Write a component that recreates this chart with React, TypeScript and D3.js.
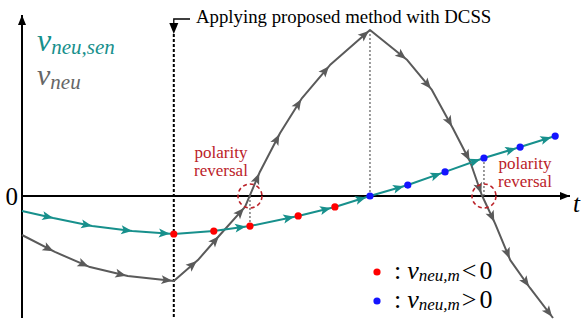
import * as d3 from "d3"

// time axis runs 0..100 (arbitrary units), signal normalised so the peak is 1
const SENSED_T = [0, 5.7, 12.8, 20.1, 27.7, 35.0, 41.6, 50.4, 57.1, 63.5, 70.4, 77.2, 84.3, 90.9, 97.3]
const SENSED_V = [-0.09, -0.133, -0.181, -0.211, -0.229, -0.211, -0.181, -0.12, -0.066, 0, 0.066, 0.145, 0.229, 0.295, 0.361]
// which points are sampled (dots) and which segments end in an arrow
const SENSED_SAMPLED = [false, false, false, false, true, true, true, true, true, true, true, true, true, true, true]
const SENSED_ARROW = [false, true, true, true, true, false, true, true, true, true, true, true, true, true, true]

const NEU_T = [0, 6.0, 12.4, 19.3, 27.7, 32.1, 36.1, 40.7, 43.4, 47.1, 51.1, 56.2, 63.5, 70.3, 74.8, 78.6, 81.8, 83.9, 86.3, 89.1, 92.7, 96.9]
const NEU_V = [-0.235, -0.337, -0.428, -0.482, -0.512, -0.386, -0.235, -0.066, 0.145, 0.38, 0.59, 0.789, 1.0, 0.819, 0.639, 0.41, 0.205, 0.006, -0.163, -0.386, -0.554, -0.735]

const APPLY_T = 27.7
const PEAK_T = 63.5
const REVERSAL_T = [41.6, 84.3]

const W = 581
const H = 324
const TEAL = "#17908c"
const GREY = "#5a5a5a"
const DARKRED = "#bb2229"
const SERIF = "'Liberation Serif', 'Times New Roman', serif"

const x = d3.scaleLinear().domain([0, 100]).range([22, 570])
const y = d3.scaleLinear().domain([-0.8, 1]).range([196 + 0.8 * 166, 30])

type Pt = [number, number]

function arrowsFor(pts: Pt[], flags: boolean[], back: (i: number) => number) {
  const out: { x: number; y: number; a: number }[] = []
  for (let i = 1; i < pts.length; i++) {
    if (!flags[i]) continue
    const [x0, y0] = pts[i - 1]
    const [x1, y1] = pts[i]
    const a = Math.atan2(y1 - y0, x1 - x0)
    const b = back(i)
    out.push({ x: x1 - Math.cos(a) * b, y: y1 - Math.sin(a) * b, a: (a * 180) / Math.PI })
  }
  return out
}

const ARROW = "M0,0 L-11,-4.5 L-8.5,0 L-11,4.5 Z"

function Arrows({ list, color }: { list: { x: number; y: number; a: number }[]; color: string }) {
  return (
    <g fill={color}>
      {list.map((d, i) => (
        <path key={i} d={ARROW} transform={`translate(${d.x},${d.y}) rotate(${d.a})`} />
      ))}
    </g>
  )
}

export default function App() {
  const sensed: Pt[] = SENSED_T.map((t, i) => [x(t), y(SENSED_V[i])])
  const neu: Pt[] = NEU_T.map((t, i) => [x(t), y(NEU_V[i])])
  const line = d3.line()
  const sensedArrows = arrowsFor(sensed, SENSED_ARROW, (i) => (SENSED_SAMPLED[i] ? 4 : 0))
  const neuArrows = arrowsFor(neu, NEU_T.map(() => true), () => 1.5)
  const y0 = y(0)
  const peakIdx = NEU_T.indexOf(PEAK_T)

  return (
    <svg width={W} height={H} style={{ position: "absolute", left: 0, top: 0, background: "#fff" }}>
      <defs>
        <marker id="ah" viewBox="0 0 10 10" refX={10} refY={5} markerWidth={10} markerHeight={10} markerUnits="userSpaceOnUse" orient="auto">
          <path d="M0,1 L10,5 L0,9 Z" fill="#000" />
        </marker>
      </defs>

      {/* axes */}
      <line x1={x(0)} x2={x(0)} y1={318} y2={15} stroke="#000" strokeWidth={2} markerEnd="url(#ah)" />
      <line x1={x(0)} x2={x(100)} y1={y0} y2={y0} stroke="#000" strokeWidth={2} markerEnd="url(#ah)" />
      <text x={18} y={205} fontFamily={SERIF} fontSize={25} textAnchor="end">0</text>
      <text x={573} y={212} fontFamily={SERIF} fontSize={25} fontStyle="italic">t</text>

      {/* applying method marker */}
      <line x1={x(APPLY_T)} x2={x(APPLY_T)} y1={34} y2={318} stroke="#000" strokeWidth={2} strokeDasharray="3,2" />
      <path d={`M${x(APPLY_T)},26 V19 H190`} fill="none" stroke="#000" strokeWidth={1.3} />
      <path d={`M${x(APPLY_T) - 4.5},23 L${x(APPLY_T) + 4.5},23 L${x(APPLY_T)},34 Z`} fill="#000" />
      <text x={196} y={23} fontFamily={SERIF} fontSize={18.8}>Applying proposed method with DCSS</text>

      {/* guide lines */}
      <g stroke={GREY} strokeWidth={1.2} strokeDasharray="2,2">
        <line x1={x(PEAK_T)} x2={x(PEAK_T)} y1={y(NEU_V[peakIdx])} y2={y0} />
        {REVERSAL_T.map((t) => {
          const v = SENSED_V[SENSED_T.indexOf(t)]
          return <line key={t} x1={x(t)} x2={x(t)} y1={y(v)} y2={y0} />
        })}
      </g>

      {/* v_neu */}
      <path d={line(neu) ?? undefined} fill="none" stroke={GREY} strokeWidth={2} strokeLinejoin="round" />
      <Arrows list={neuArrows} color={GREY} />

      {/* v_neu,sen */}
      <path d={line(sensed) ?? undefined} fill="none" stroke={TEAL} strokeWidth={2} strokeLinejoin="round" />
      <Arrows list={sensedArrows} color={TEAL} />
      {SENSED_T.map((t, i) =>
        SENSED_SAMPLED[i] ? (
          <circle key={t} cx={x(t)} cy={y(SENSED_V[i])} r={3.6} fill={SENSED_V[i] < 0 ? "#ff0000" : "#1414ff"} />
        ) : null
      )}

      {/* polarity reversal markers */}
      {REVERSAL_T.map((t) => (
        <circle key={t} cx={x(t)} cy={y0} r={12} fill="none" stroke={DARKRED} strokeWidth={1.6} strokeDasharray="4,3" />
      ))}
      <g fontFamily={SERIF} fontSize={17} fill={DARKRED} textAnchor="middle">
        <text x={221} y={158}>polarity</text>
        <text x={221} y={176}>reversal</text>
        <text x={525} y={169}>polarity</text>
        <text x={525} y={187}>reversal</text>
      </g>

      {/* series labels */}
      <text x={37} y={51} fontFamily={SERIF} fontStyle="italic" fill={TEAL}>
        <tspan fontSize={32}>v</tspan>
        <tspan fontSize={21} dy={3}>neu,sen</tspan>
      </text>
      <text x={37} y={85} fontFamily={SERIF} fontStyle="italic" fill="#666">
        <tspan fontSize={30}>v</tspan>
        <tspan fontSize={21} dy={4}>neu</tspan>
      </text>

      {/* sample legend */}
      <circle cx={377} cy={272} r={3.6} fill="#ff0000" />
      <circle cx={377} cy={301} r={3.6} fill="#1414ff" />
      <text x={394} y={279} fontFamily={SERIF} fontSize={26}>
        <tspan>:</tspan>
        <tspan dx={6} fontStyle="italic">v</tspan>
        <tspan fontSize={17} fontStyle="italic" dy={2}>neu,m</tspan>
        <tspan dy={-2} dx={2}>&lt;</tspan>
        <tspan dx={3}>0</tspan>
      </text>
      <text x={394} y={308} fontFamily={SERIF} fontSize={26}>
        <tspan>:</tspan>
        <tspan dx={6} fontStyle="italic">v</tspan>
        <tspan fontSize={17} fontStyle="italic" dy={2}>neu,m</tspan>
        <tspan dy={-2} dx={2}>&gt;</tspan>
        <tspan dx={3}>0</tspan>
      </text>
    </svg>
  )
}
